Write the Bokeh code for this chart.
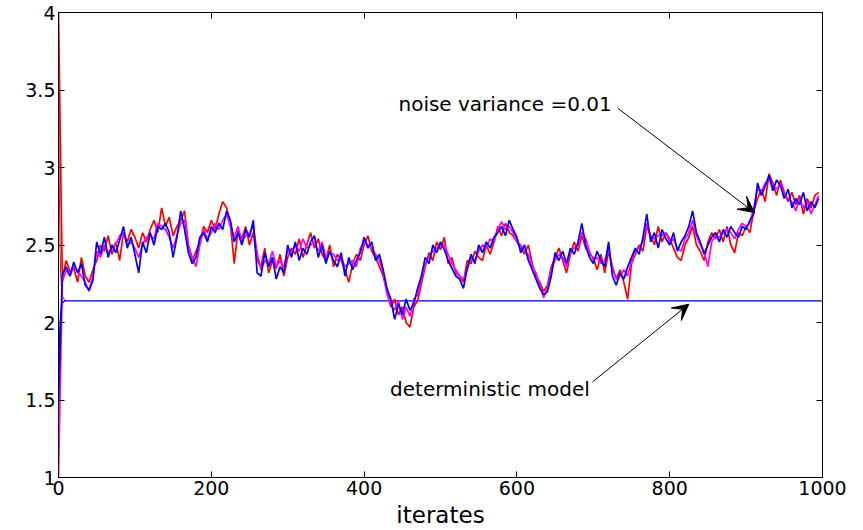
from bokeh.plotting import figure
from bokeh.models import Range1d, LinearAxis, Arrow, VeeHead, Label, FixedTicker
from bokeh.embed import file_html
from bokeh.resources import INLINE

# ---------------- data ----------------
step_iterates = list(range(0, 1000, 5))

noisy_blue = [
    1.50, 2.31, 2.36, 2.30, 2.39, 2.32, 2.38, 2.24, 2.21, 2.27, 2.52, 2.44, 2.55, 2.42, 2.50, 2.45, 2.53, 2.62, 2.48, 2.55,
    2.44, 2.32, 2.52, 2.45, 2.58, 2.50, 2.62, 2.60, 2.64, 2.58, 2.42, 2.55, 2.72, 2.60, 2.45, 2.38, 2.42, 2.55, 2.58, 2.52,
    2.62, 2.58, 2.64, 2.60, 2.72, 2.66, 2.52, 2.58, 2.50, 2.60, 2.55, 2.66, 2.32, 2.30, 2.45, 2.36, 2.42, 2.28, 2.36, 2.32,
    2.50, 2.42, 2.52, 2.40, 2.48, 2.44, 2.52, 2.56, 2.42, 2.50, 2.38, 2.46, 2.40, 2.36, 2.45, 2.30, 2.42, 2.34, 2.40, 2.45,
    2.55, 2.48, 2.52, 2.40, 2.44, 2.34, 2.22, 2.15, 2.02, 2.12, 2.05, 2.15, 2.08, 2.12, 2.22, 2.30, 2.42, 2.38, 2.50, 2.45,
    2.52, 2.47, 2.40, 2.35, 2.30, 2.28, 2.22, 2.35, 2.44, 2.38, 2.50, 2.45, 2.52, 2.48, 2.55, 2.58, 2.62, 2.56, 2.66, 2.60,
    2.55, 2.45, 2.50, 2.40, 2.34, 2.28, 2.22, 2.18, 2.20, 2.30, 2.45, 2.40, 2.46, 2.38, 2.48, 2.44, 2.52, 2.64, 2.50, 2.42,
    2.38, 2.46, 2.40, 2.36, 2.52, 2.30, 2.24, 2.32, 2.28, 2.36, 2.42, 2.48, 2.44, 2.55, 2.70, 2.52, 2.58, 2.48, 2.60, 2.54,
    2.50, 2.58, 2.46, 2.52, 2.56, 2.62, 2.72, 2.58, 2.52, 2.44, 2.50, 2.55, 2.58, 2.52, 2.60, 2.55, 2.62, 2.58, 2.55, 2.62,
    2.60, 2.66, 2.70, 2.90, 2.82, 2.88, 2.95, 2.85, 2.92, 2.88, 2.80, 2.86, 2.74, 2.80, 2.76, 2.84, 2.72, 2.78, 2.74, 2.80,
]

noisy_red = [
    4.00, 2.28, 2.40, 2.33, 2.35, 2.26, 2.42, 2.30, 2.26, 2.34, 2.40, 2.50, 2.46, 2.56, 2.44, 2.52, 2.40, 2.58, 2.52, 2.60,
    2.55, 2.48, 2.58, 2.52, 2.60, 2.66, 2.58, 2.74, 2.62, 2.68, 2.56, 2.62, 2.66, 2.72, 2.50, 2.40, 2.46, 2.52, 2.62, 2.58,
    2.66, 2.60, 2.70, 2.78, 2.74, 2.64, 2.38, 2.60, 2.54, 2.62, 2.50, 2.58, 2.40, 2.36, 2.48, 2.32, 2.40, 2.35, 2.44, 2.30,
    2.42, 2.48, 2.44, 2.54, 2.42, 2.50, 2.58, 2.48, 2.54, 2.44, 2.40, 2.50, 2.36, 2.44, 2.40, 2.34, 2.26, 2.38, 2.44, 2.40,
    2.50, 2.56, 2.46, 2.42, 2.36, 2.30, 2.20, 2.10, 2.15, 2.05, 2.10, 2.00, 1.97, 2.10, 2.14, 2.25, 2.36, 2.45, 2.40, 2.52,
    2.47, 2.55, 2.38, 2.42, 2.32, 2.30, 2.26, 2.40, 2.38, 2.46, 2.42, 2.40, 2.50, 2.44, 2.52, 2.62, 2.56, 2.64, 2.58, 2.56,
    2.52, 2.48, 2.44, 2.50, 2.38, 2.30, 2.26, 2.20, 2.24, 2.36, 2.42, 2.48, 2.40, 2.32, 2.44, 2.52, 2.46, 2.56, 2.48, 2.44,
    2.42, 2.34, 2.44, 2.32, 2.46, 2.36, 2.28, 2.34, 2.26, 2.15, 2.38, 2.44, 2.50, 2.46, 2.62, 2.56, 2.50, 2.62, 2.52, 2.58,
    2.54, 2.48, 2.42, 2.40, 2.50, 2.55, 2.62, 2.50, 2.46, 2.40, 2.52, 2.58, 2.54, 2.60, 2.52, 2.62, 2.50, 2.45, 2.58, 2.56,
    2.62, 2.58, 2.72, 2.80, 2.86, 2.78, 2.96, 2.90, 2.82, 2.92, 2.84, 2.78, 2.84, 2.76, 2.82, 2.70, 2.80, 2.74, 2.82, 2.84,
]

noisy_magenta = [
    1.00, 2.26, 2.34, 2.30, 2.36, 2.33, 2.30, 2.26, 2.20, 2.30, 2.46, 2.42, 2.50, 2.45, 2.48, 2.50, 2.56, 2.58, 2.50, 2.52,
    2.48, 2.42, 2.50, 2.55, 2.56, 2.54, 2.64, 2.62, 2.60, 2.55, 2.48, 2.56, 2.64, 2.66, 2.50, 2.42, 2.36, 2.50, 2.60, 2.54,
    2.58, 2.64, 2.60, 2.66, 2.70, 2.62, 2.55, 2.62, 2.52, 2.56, 2.58, 2.62, 2.45, 2.34, 2.40, 2.38, 2.46, 2.36, 2.40, 2.36,
    2.46, 2.45, 2.50, 2.46, 2.54, 2.48, 2.50, 2.52, 2.46, 2.52, 2.42, 2.45, 2.44, 2.40, 2.42, 2.36, 2.38, 2.40, 2.36, 2.48,
    2.52, 2.50, 2.48, 2.44, 2.40, 2.32, 2.18, 2.12, 2.08, 2.14, 2.02, 2.10, 2.04, 2.15, 2.18, 2.28, 2.38, 2.42, 2.46, 2.48,
    2.50, 2.50, 2.44, 2.38, 2.34, 2.30, 2.28, 2.34, 2.42, 2.40, 2.46, 2.50, 2.48, 2.54, 2.52, 2.60, 2.65, 2.60, 2.62, 2.58,
    2.52, 2.50, 2.46, 2.44, 2.36, 2.32, 2.24, 2.16, 2.22, 2.34, 2.40, 2.44, 2.42, 2.36, 2.46, 2.48, 2.50, 2.58, 2.54, 2.46,
    2.40, 2.42, 2.38, 2.40, 2.48, 2.34, 2.28, 2.30, 2.34, 2.30, 2.40, 2.46, 2.48, 2.52, 2.64, 2.56, 2.54, 2.56, 2.56, 2.58,
    2.52, 2.54, 2.48, 2.46, 2.54, 2.58, 2.66, 2.56, 2.50, 2.46, 2.36, 2.52, 2.56, 2.55, 2.58, 2.60, 2.58, 2.54, 2.60, 2.64,
    2.62, 2.64, 2.74, 2.86, 2.84, 2.90, 2.92, 2.88, 2.86, 2.90, 2.82, 2.80, 2.78, 2.72, 2.80, 2.74, 2.78, 2.70, 2.76, 2.82,
]

# deterministic model: short transients, then the common steady level
det_transient_iterates = [0, 1, 2, 3, 4, 5, 6, 8, 10]
det_red = [4.00, 2.90, 2.50, 2.30, 2.22, 2.18, 2.16, 2.145, 2.14]
det_magenta = [1.00, 1.60, 1.90, 2.04, 2.10, 2.12, 2.13, 2.14, 2.14]
det_blue_iterates = [0, 1, 2, 3, 4, 5, 6, 8, 10, 1000]
det_blue = [1.50, 1.85, 2.00, 2.07, 2.10, 2.12, 2.13, 2.14, 2.14, 2.14]

x_ticks = [0, 200, 400, 600, 800, 1000]
y_ticks = [1, 1.5, 2, 2.5, 3, 3.5, 4]
y_tick_labels = ["1", "1.5", "2", "2.5", "3", "3.5", "4"]

FONT = "DejaVu Sans"

p = figure(width=863, height=530, output_backend="svg", toolbar_location=None,
           x_range=Range1d(0, 1000), y_range=Range1d(1, 4),
           min_border_left=58, min_border_right=41, min_border_top=12, min_border_bottom=51)
p.grid.visible = False
p.outline_line_color = "black"
p.outline_line_width = 1
p.background_fill_color = "white"
p.border_fill_color = "white"

# deterministic model
p.line(det_transient_iterates, det_red, line_color="#ff0000", line_width=1)
p.line(det_transient_iterates, det_magenta, line_color="#ff00ff", line_width=1)
p.line(det_blue_iterates, det_blue, line_color="#0000b0", line_width=1.2)

# noisy runs
p.line(step_iterates, noisy_red, line_color="#ff0000", line_width=1.7)
p.line(step_iterates, noisy_magenta, line_color="#ff00ff", line_width=1.7)
p.line(step_iterates, noisy_blue, line_color="#0000ff", line_width=1.7)

# axes
for ax in (p.xaxis[0], p.yaxis[0]):
    ax.major_tick_in = 6
    ax.major_tick_out = 0
    ax.minor_tick_line_color = None
    ax.axis_line_color = "black"
    ax.major_label_text_font = FONT
    ax.major_label_text_font_size = "19px"
    ax.major_label_text_color = "black"
    ax.major_label_standoff = 3
p.xaxis[0].ticker = FixedTicker(ticks=x_ticks)
p.yaxis[0].ticker = FixedTicker(ticks=y_ticks)
p.yaxis[0].major_label_overrides = {float(t): s for t, s in zip(y_ticks, y_tick_labels)}
p.xaxis[0].axis_label = "iterates"
p.xaxis[0].axis_label_text_font = FONT
p.xaxis[0].axis_label_text_font_size = "23px"
p.xaxis[0].axis_label_text_font_style = "normal"
p.xaxis[0].axis_label_text_color = "black"
p.xaxis[0].axis_label_standoff = 4

# box ticks on the right and top (no labels)
right_ax = LinearAxis(ticker=FixedTicker(ticks=y_ticks), major_tick_in=6, major_tick_out=0,
                      minor_tick_line_color=None, major_label_text_font_size="1px",
                      major_label_standoff=0,
                      major_label_overrides={float(t): "" for t in y_ticks})
top_ax = LinearAxis(ticker=FixedTicker(ticks=x_ticks), major_tick_in=6, major_tick_out=0,
                    minor_tick_line_color=None, major_label_text_font_size="1px",
                    major_label_standoff=0,
                    major_label_overrides={float(t): "" for t in x_ticks})
p.add_layout(right_ax, "right")
p.add_layout(top_ax, "above")

# annotations
p.add_layout(Label(x=445, y=3.409, text="noise variance =0.01", text_font=FONT,
                   text_font_size="20px", text_color="black", text_baseline="alphabetic"))
p.add_layout(Label(x=434, y=1.572, text="deterministic model", text_font=FONT,
                   text_font_size="20px", text_color="black", text_baseline="alphabetic"))
p.add_layout(Arrow(x_start=732, y_start=3.383, x_end=911, y_end=2.709, line_color="black", line_width=1,
                   end=VeeHead(size=16, fill_color="black", line_color="black")))
p.add_layout(Arrow(x_start=699, y_start=1.617, x_end=825, y_end=2.118, line_color="black", line_width=1,
                   end=VeeHead(size=16, fill_color="black", line_color="black")))

open("out.html", "w").write(file_html(p, INLINE))
